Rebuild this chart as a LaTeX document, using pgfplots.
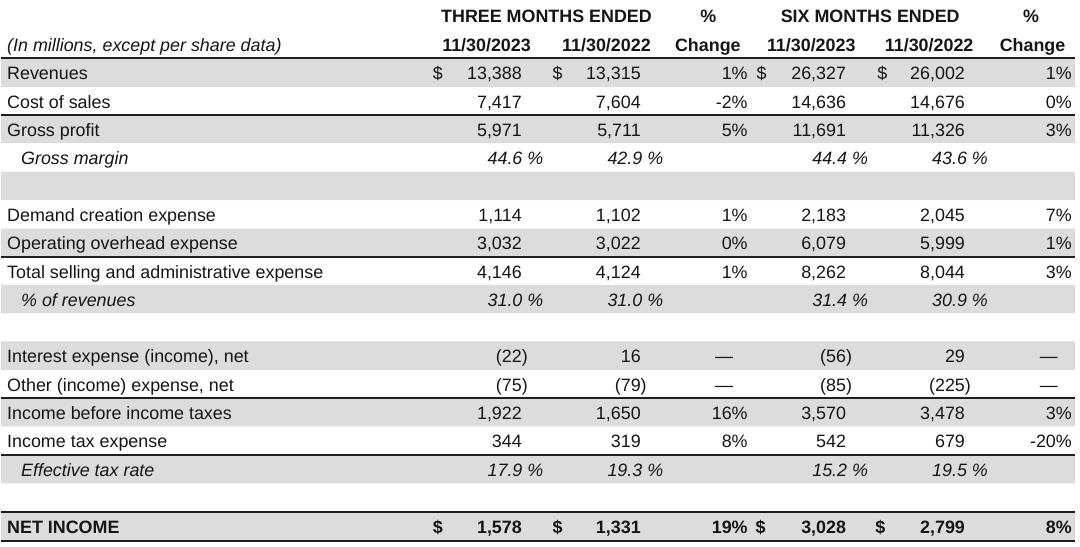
\documentclass[border=0pt]{standalone}
\usepackage{fontspec}
\setmainfont{Liberation Sans}
\usepackage{pgfplots}
\usepackage{pgfplotstable}
\pgfplotsset{compat=1.18}
\definecolor{txt}{HTML}{151515}
\definecolor{band}{HTML}{DCDCDC}
\definecolor{rulec}{HTML}{1E1E1E}
\newcommand{\fs}{\fontsize{17.9}{20}\selectfont}

% row labels (y = baseline in pixels from top)
\pgfplotstableread[col sep=semicolon, row sep=\\]{
y;t\\
52;\textit{(In millions, except per share data)}\\
80;Revenues\\
108.3;Cost of sales\\
136.6;Gross profit\\
165;\hspace*{14pt}\textit{Gross margin}\\
221.5;Demand creation expense\\
250;Operating overhead expense\\
278.3;Total selling and administrative expense\\
306.6;\hspace*{14pt}\textit{\% of revenues}\\
363.2;Interest expense (income), net\\
391.5;Other (income) expense, net\\
419.8;Income before income taxes\\
448;Income tax expense\\
476.5;\hspace*{14pt}\textit{Effective tax rate}\\
533.5;\textbf{NET INCOME}\\
}\labels

% numeric columns
\pgfplotstableread[col sep=semicolon, row sep=\\]{
y;a;b;c;d;e;f\\
80;13,388;13,315;1\%;26,327;26,002;1\%\\
108.3;7,417;7,604;-2\%;14,636;14,676;0\%\\
136.6;5,971;5,711;5\%;11,691;11,326;3\%\\
221.5;1,114;1,102;1\%;2,183;2,045;7\%\\
250;3,032;3,022;0\%;6,079;5,999;1\%\\
278.3;4,146;4,124;1\%;8,262;8,044;3\%\\
363.2;(22\rlap{)};16;—\kern14.5pt;(56\rlap{)};29;—\kern14pt\\
391.5;(75\rlap{)};(79\rlap{)};—\kern14.5pt;(85\rlap{)};(225\rlap{)};—\kern14pt\\
419.8;1,922;1,650;16\%;3,570;3,478;3\%\\
448;344;319;8\%;542;679;-20\%\\
533.5;\textbf{1,578};\textbf{1,331};\textbf{19\%};\textbf{3,028};\textbf{2,799};\textbf{8\%}\\
}\nums

% italic percentage rows
\pgfplotstableread[col sep=semicolon, row sep=\\]{
y;a;b;d;e\\
165;44.6 \%;42.9 \%;44.4 \%;43.6 \%\\
306.6;31.0 \%;31.0 \%;31.4 \%;30.9 \%\\
476.5;17.9 \%;19.3 \%;15.2 \%;19.5 \%\\
}\pcts

% dollar signs
\pgfplotstableread[col sep=semicolon, row sep=\\]{
x;y;t\\
432;80;\$\\
552;80;\$\\
756;80;\$\\
877;80;\$\\
432;533.5;\textbf{\$}\\
552;533.5;\textbf{\$}\\
755;533.5;\textbf{\$}\\
875;533.5;\textbf{\$}\\
}\dollars

% header
\pgfplotstableread[col sep=semicolon, row sep=\\]{
x;y;t\\
546;23;THREE MONTHS ENDED\\
708;23;\%\\
870;23;SIX MONTHS ENDED\\
1031;23;\%\\
486;52;11/30/2023\\
606;52;11/30/2022\\
707.5;52;Change\\
811;52;11/30/2023\\
929;52;11/30/2022\\
1032.5;52;Change\\
}\header

\pgfplotsset{
  celltxt/.style={only marks, mark=none, point meta=explicit symbolic, nodes near coords,
    every node near coord/.append style={anchor=#1, inner sep=0pt, font=\fs, text=txt}},
}

\begin{document}
\begin{tikzpicture}
\begin{axis}[
  width=1080pt, height=547pt, scale only axis,
  xmin=0, xmax=1080, ymin=0, ymax=547, y dir=reverse,
  hide axis, clip=false,
]
\path (rel axis cs:0,0) rectangle (rel axis cs:1,1);
% shaded rows
\addplot[xbar, bar width=28.5, bar shift=0pt, fill=band, draw=none]
  coordinates {(1075,73) (1075,129) (1075,186) (1075,243) (1075,299.5)
               (1075,356) (1075,412.5) (1075,469.5) (1075,526.5)};
% rules
\addplot[rulec, line width=2pt] coordinates {(0,58.5) (1075,58.5)};
\addplot[rulec, line width=2pt] coordinates {(0,115) (1075,115)};
\addplot[rulec, line width=2pt] coordinates {(0,257) (1075,257)};
\addplot[rulec, line width=2pt] coordinates {(0,398) (1075,398)};
\addplot[rulec, line width=2pt] coordinates {(0,455) (1075,455)};
\addplot[rulec, line width=2pt] coordinates {(0,512) (1075,512)};
\addplot[rulec, line width=2pt] coordinates {(0,541) (1075,541)};
% header
\addplot[celltxt=base, every node near coord/.append style={font=\fs\bfseries}]
  table[x=x, y=y, meta=t]{\header};
% labels
\addplot[celltxt=base west] table[x expr=6, y=y, meta=t]{\labels};
% dollar signs
\addplot[celltxt=base west] table[x=x, y=y, meta=t]{\dollars};
% numbers
\addplot[celltxt=base east] table[x expr=521.5, y=y, meta=a]{\nums};
\addplot[celltxt=base east] table[x expr=640.5, y=y, meta=b]{\nums};
\addplot[celltxt=base east] table[x expr=747.5, y=y, meta=c]{\nums};
\addplot[celltxt=base east] table[x expr=846, y=y, meta=d]{\nums};
\addplot[celltxt=base east] table[x expr=965, y=y, meta=e]{\nums};
\addplot[celltxt=base east] table[x expr=1072, y=y, meta=f]{\nums};
% italic percentages
\addplot[celltxt=base east, every node near coord/.append style={font=\fs\itshape}] table[x expr=543, y=y, meta=a]{\pcts};
\addplot[celltxt=base east, every node near coord/.append style={font=\fs\itshape}] table[x expr=663, y=y, meta=b]{\pcts};
\addplot[celltxt=base east, every node near coord/.append style={font=\fs\itshape}] table[x expr=868, y=y, meta=d]{\pcts};
\addplot[celltxt=base east, every node near coord/.append style={font=\fs\itshape}] table[x expr=988, y=y, meta=e]{\pcts};
\end{axis}
\end{tikzpicture}
\end{document}
